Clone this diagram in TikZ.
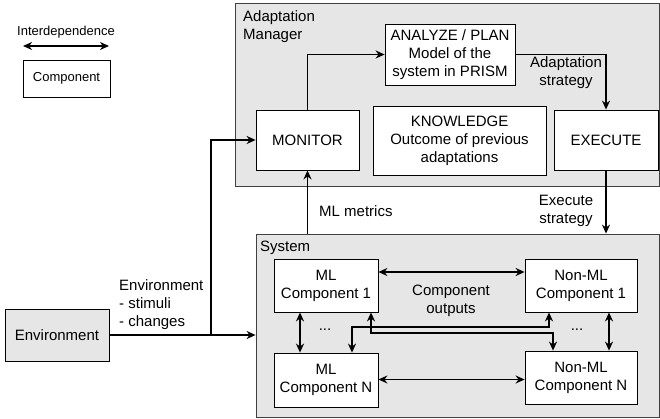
\documentclass[tikz,border=0pt]{standalone}
\usepackage{fontspec}
\setmainfont{Liberation Sans}
\usepackage{xcolor}
\usepackage{tikz}
\usetikzlibrary{arrows.meta}
\definecolor{areagray}{HTML}{E6E6E6}

\begin{document}
\begin{tikzpicture}[x=1pt,y=-1pt,
    wh/.style 2 args={minimum width=#1,minimum height=#2},
    box/.style={draw,fill=white,line width=0.8pt,align=center,inner sep=0pt,font=\fontsize{15}{18}\selectfont},
    area/.style={draw=black!75,fill=areagray,line width=0.8pt,inner sep=0pt},
    lbl/.style={inner sep=0pt,align=center,font=\fontsize{15}{18}\selectfont},
    link/.style={line width=1.5pt,-{Stealth[length=9pt,width=8pt]}},
    both/.style={line width=1.5pt,{Stealth[length=9pt,width=8pt]}-{Stealth[length=9pt,width=8pt]}}]
    \useasboundingbox (0,0) rectangle (660,419);

    % legend
    \node[lbl,font=\fontsize{13}{15}\selectfont] (legtxt) at (66,32) {Interdependence};
    \coordinate (legL) at (23,46);
    \coordinate (legR) at (109,46);
    \draw[both] (legL) -- (legR);
    \node[box,wh={87}{37},font=\fontsize{13}{15}\selectfont] (legbox) at (66.5,78.5) {Component};

    % adaptation manager
    \node[area,wh={424}{183}] (mgr) at (447,94.5) {};
    \node[lbl,align=left,anchor=west] (mgrtxt) at (243,26.5) {Adaptation\\Manager};
    \node[box,wh={130}{61}] (plan) at (450,54.5) {ANALYZE / PLAN\\Model of the\\system in PRISM};
    \node[box,wh={103}{60}] (monitor) at (307.5,140) {MONITOR};
    \node[box,wh={173}{69}] (know) at (459.5,140.5) {KNOWLEDGE\\Outcome of previous\\adaptations};
    \node[box,wh={104}{60}] (exec) at (606,140) {EXECUTE};

    % system
    \node[area,wh={403}{183}] (sys) at (457.5,325.5) {};
    \node[lbl,anchor=west] (systxt) at (260,248) {System};
    \node[box,wh={104}{53}] (ml1) at (326,285.5) {ML\\Component 1};
    \node[box,wh={112}{53}] (nml1) at (581,285.5) {Non-ML\\Component 1};
    \node[box,wh={104}{54}] (mln) at (326,380) {ML\\Component N};
    \node[box,wh={112}{53}] (nmln) at (581,377.5) {Non-ML\\Component N};
    \foreach \i/\x in {1/325,2/577}{
        \node[lbl] (dots\i) at (\x,330) {...};
    }

    % environment
    \node[box,fill=areagray,wh={104}{52}] (env) at (57,335) {Environment};

    % connectors
    \draw[link] (monitor.north) |- (plan.west);
    \draw[link] (plan.east) -| (exec.north);
    \draw[link] (exec.south) -- (exec.south |- sys.north);
    \draw[link] (monitor.south |- sys.north) -- (monitor.south);
    \draw[link] (env.east) -- (sys.west |- env.east);
    \coordinate (split) at (211,335);
    \draw[link] (split) |- (monitor.west);

    \draw[both] (ml1.east |- 0,272) -- (nml1.west |- 0,272);
    \draw[both] (mln.east |- 0,379.5) -- (nmln.west |- 0,379.5);
    \draw[both] (ml1.south -| 300,0) -- (mln.north -| 300,0);
    \draw[both] (nml1.south -| 609,0) -- (nmln.north -| 609,0);
    \draw[both] (mln.north -| 352,0) -- (352,327) -- (549,327) -- (nml1.south -| 549,0);
    \draw[both] (ml1.south -| 371,0) -- (371,333) -- (553,333) -- (nmln.north -| 553,0);

    % labels
    \node[lbl,align=left,anchor=west] (envtxt) at (119,305) {Environment\\- stimuli\\- changes};
    \node[lbl,anchor=west] (mltxt) at (319,211) {ML metrics};
    \node[lbl] (adtxt) at (566,73) {Adaptation\\strategy};
    \node[lbl] (extxt) at (566,211) {Execute\\strategy};
    \node[lbl] (outtxt) at (451,301) {Component\\outputs};
\end{tikzpicture}
\end{document}
